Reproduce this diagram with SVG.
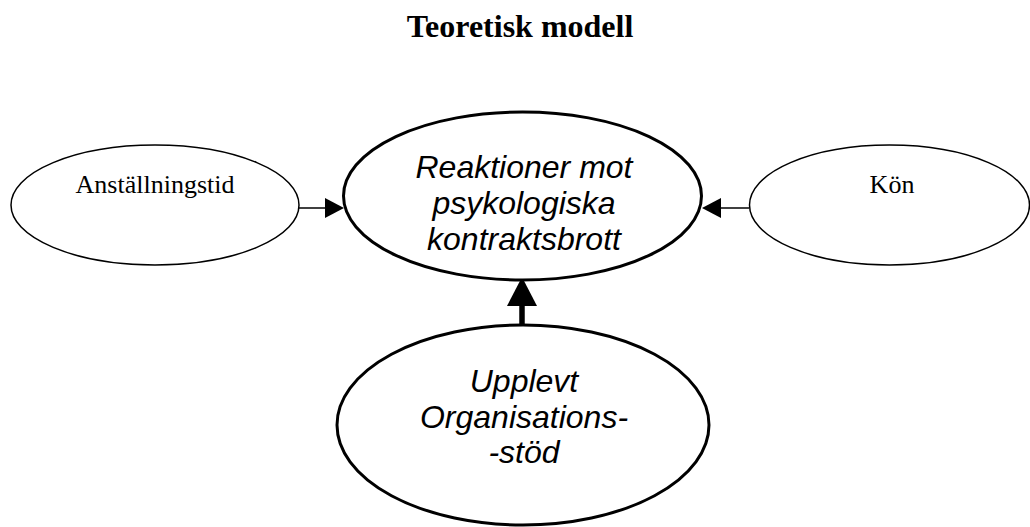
<svg xmlns="http://www.w3.org/2000/svg" width="1030" height="527" viewBox="0 0 1030 527">
<style>
.thin{fill:#fff;stroke:#000;stroke-width:1.5}
.thick{fill:#fff;stroke:#000;stroke-width:3}
.serif{font-family:"Liberation Serif","Times New Roman",serif;fill:#000}
.sans{font-family:"Liberation Sans",Arial,sans-serif;font-style:italic;font-size:32px;fill:#000}
.line{stroke:#000;fill:none}
.head{fill:#000;stroke:none}
</style>
<rect width="1030" height="527" fill="#fff"/>
<text class="serif" x="520" y="37" font-size="32" font-weight="bold" text-anchor="middle">Teoretisk modell</text>
<g id="connectors">
<line class="line" x1="299" y1="208" x2="327" y2="208" stroke-width="1.5"/>
<polygon class="head" points="344,208 325,198 325,218"/>
<line class="line" x1="749" y1="208" x2="719" y2="208" stroke-width="1.5"/>
<polygon class="head" points="702,208 721,198 721,218"/>
<line class="line" x1="522" y1="325" x2="522" y2="303" stroke-width="5.5"/>
<polygon class="head" points="522,277 507,306 537,306"/>
</g>
<g id="anstallningstid">
<ellipse class="thin" cx="155" cy="205" rx="144" ry="60"/>
<text class="serif" x="155" y="193" font-size="26" text-anchor="middle">Anställningstid</text>
</g>
<g id="kon">
<ellipse class="thin" cx="889.5" cy="205" rx="140" ry="60"/>
<text class="serif" x="892" y="193" font-size="26" text-anchor="middle">Kön</text>
</g>
<g id="reaktioner">
<ellipse class="thick" cx="522.5" cy="196" rx="179" ry="84"/>
<text class="sans" text-anchor="middle"><tspan x="524" y="178">Reaktioner mot</tspan><tspan x="524" y="214">psykologiska</tspan><tspan x="524" y="250">kontraktsbrott</tspan></text>
</g>
<g id="organisationsstod">
<ellipse class="thick" cx="523" cy="425" rx="186" ry="100"/>
<text class="sans" text-anchor="middle"><tspan x="524" y="392">Upplevt</tspan><tspan x="524" y="428">Organisations-</tspan><tspan x="524" y="463">-stöd</tspan></text>
</g>
</svg>
